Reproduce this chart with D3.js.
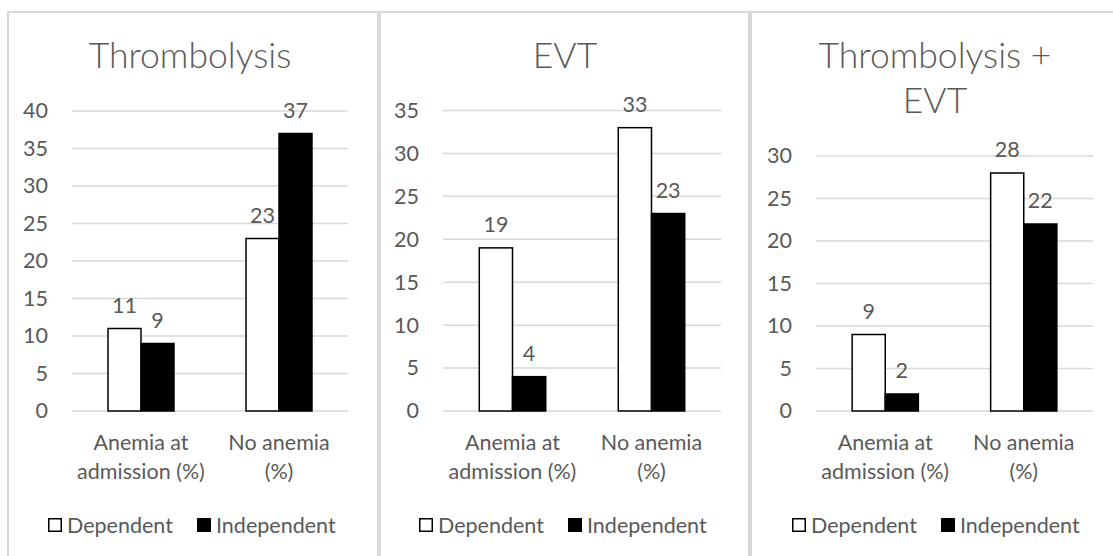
<!DOCTYPE html>
<html>
<head>
<meta charset="utf-8">
<script src="https://cdn.jsdelivr.net/npm/d3@7"></script>
<style>
  html, body { margin: 0; padding: 0; background: #fff; }
  svg { display: block; }
  text { font-family: Lato, "Open Sans", sans-serif; fill: #595959; }
</style>
</head>
<body>
<svg id="chart" width="1113" height="556"></svg>
<script>
// ---- data ----
const categories = [["Anemia at", "admission (%)"], ["No anemia", "(%)"]];
const seriesNames = ["Dependent", "Independent"];
const panelTitles = [["Thrombolysis"], ["EVT"], ["Thrombolysis +", "EVT"]];
const thrombolysisDependent = [11, 23];
const thrombolysisIndependent = [9, 37];
const evtDependent = [19, 33];
const evtIndependent = [4, 23];
const comboDependent = [9, 28];
const comboIndependent = [2, 22];
const yMaxes = [40, 35, 30];
const tickStep = 5;

// ---- layout ----
const panelLayout = [
  { titleX: 190, plotL: 72,  plotR: 348,  plotT: 111, legendX: 48 },
  { titleX: 565, plotL: 443, plotR: 721,  plotT: 110.5, legendX: 419 },
  { titleX: 935, plotL: 816, plotR: 1093, plotT: 156, legendX: 792 }
];
const plotB = 411;
const seriesFill = ["#ffffff", "#000000"];
const gridColor = "#d9d9d9";
const fs = "21.5px";

const panelValues = [
  [thrombolysisDependent, thrombolysisIndependent],
  [evtDependent, evtIndependent],
  [comboDependent, comboIndependent]
];

const svg = d3.select("#chart");

// panel borders
svg.append("rect").attr("x", 7).attr("y", 11).attr("width", 1106).attr("height", 2).attr("fill", gridColor);
svg.append("rect").attr("x", 7).attr("y", 11).attr("width", 2).attr("height", 545).attr("fill", gridColor);
svg.append("rect").attr("x", 377).attr("y", 11).attr("width", 4).attr("height", 545).attr("fill", gridColor);
svg.append("rect").attr("x", 748).attr("y", 11).attr("width", 4).attr("height", 545).attr("fill", gridColor);

panelLayout.forEach((L, pi) => {
  const g = svg.append("g");
  const vals = panelValues[pi];
  const y = d3.scaleLinear().domain([0, yMaxes[pi]]).range([plotB, L.plotT]);
  const x0 = d3.scaleBand().domain(d3.range(categories.length))
    .range([L.plotL, L.plotR]).paddingInner(0.522).paddingOuter(0.261);
  const x1 = d3.scaleBand().domain(d3.range(seriesNames.length)).range([0, x0.bandwidth()]);

  // title
  panelTitles[pi].forEach((t, i) => {
    g.append("text").attr("x", L.titleX).attr("y", 68 + i * 45)
      .attr("text-anchor", "middle").style("font-size", "35.5px").style("font-weight", 300).text(t);
  });

  // gridlines + y tick labels
  const ticks = d3.range(0, yMaxes[pi] + 0.001, tickStep);
  const yAxis = d3.axisLeft(y).tickValues(ticks).tickSize(0).tickPadding(0);
  const ag = g.append("g").attr("transform", `translate(${L.plotL - 24},0)`).call(yAxis);
  ag.select(".domain").remove();
  ag.selectAll("text").style("font-size", fs).attr("fill", "#595959")
    .style("font-family", "Lato, 'Open Sans', sans-serif");
  ticks.forEach(t => {
    g.append("line").attr("x1", L.plotL).attr("x2", L.plotR)
      .attr("y1", y(t)).attr("y2", y(t))
      .attr("stroke", gridColor).attr("stroke-width", 1.5);
  });

  // bars
  categories.forEach((c, ci) => {
    seriesNames.forEach((s, si) => {
      const v = vals[si][ci];
      const bx = x0(ci) + x1(si);
      g.append("rect").attr("x", bx).attr("y", y(v))
        .attr("width", x1.bandwidth()).attr("height", y(0) - y(v))
        .attr("fill", seriesFill[si]).attr("stroke", "#000").attr("stroke-width", 1.5);
      g.append("text").attr("x", bx + x1.bandwidth() / 2).attr("y", y(v) - 16)
        .attr("text-anchor", "middle").style("font-size", fs).text(v);
    });
    // category labels
    c.forEach((line, li) => {
      g.append("text").attr("x", x0(ci) + x0.bandwidth() / 2).attr("y", 450 + li * 29)
        .attr("text-anchor", "middle").style("font-size", fs).text(line);
    });
  });

  // legend
  const lg = g.append("g").attr("transform", `translate(${L.legendX},518)`);
  lg.append("rect").attr("x", 0.75).attr("y", 0.75).attr("width", 12.5).attr("height", 12.5)
    .attr("fill", "#fff").attr("stroke", "#000").attr("stroke-width", 1.5);
  lg.append("text").attr("x", 19).attr("y", 14.5).style("font-size", fs).text(seriesNames[0]);
  lg.append("rect").attr("x", 149).attr("y", 0).attr("width", 14).attr("height", 14).attr("fill", "#000");
  lg.append("text").attr("x", 168).attr("y", 14.5).style("font-size", fs).text(seriesNames[1]);
});
</script>
</body>
</html>
